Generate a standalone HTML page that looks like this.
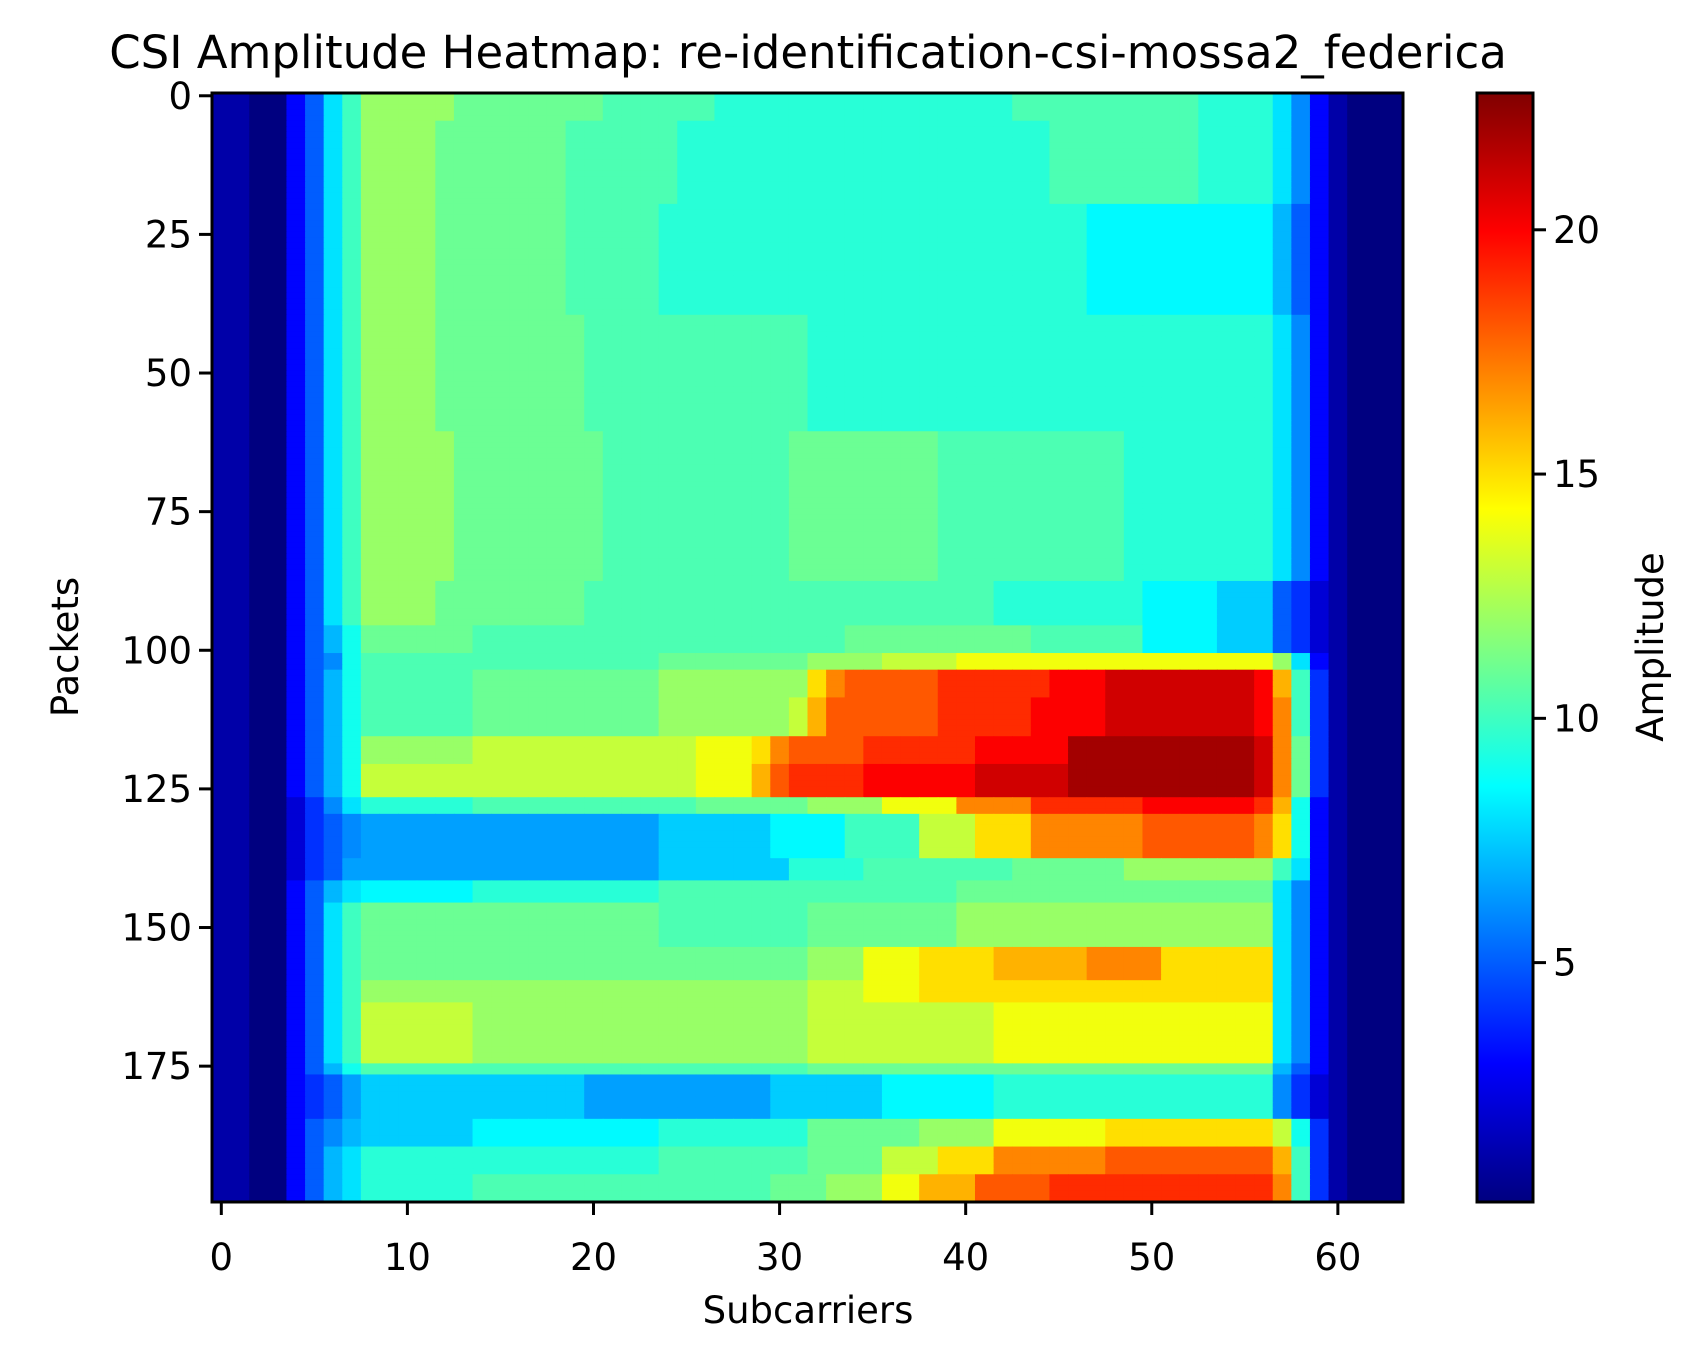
<!DOCTYPE html>
<html><head><meta charset="utf-8"><style>
html,body{margin:0;padding:0;background:#fff;}
svg{display:block;font-family:"DejaVu Sans","Liberation Sans",sans-serif;}
</style></head><body>
<svg id="chart" width="1703" height="1361" viewBox="0 0 1703 1361" xmlns="http://www.w3.org/2000/svg">
<text x="808" y="68" font-size="45" text-anchor="middle">CSI Amplitude Heatmap: re-identification-csi-mossa2_federica</text>
<g id="cells"></g>
<rect x="212" y="93" width="1191" height="1109" fill="none" stroke="#000" stroke-width="3"/>
<g id="xticks"></g>
<g id="yticks"></g>
<text x="808" y="1323" font-size="37" text-anchor="middle">Subcarriers</text>
<text x="0" y="0" font-size="37" text-anchor="middle" transform="translate(78,647) rotate(-90)">Packets</text>
<defs><linearGradient id="jetgrad" x1="0" y1="1" x2="0" y2="0"></linearGradient></defs>
<rect x="1477" y="93" width="56" height="1109" fill="url(#jetgrad)" stroke="#000" stroke-width="3"/>
<g id="cticks"></g>
<text x="0" y="0" font-size="37" text-anchor="middle" transform="translate(1663,647) rotate(-90)">Amplitude</text>
</svg>
<script>
// ---- data ----
const rowCounts = [5,15,20,21,27,8,5,3,5,7,5,6,3,8,4,4,8,6,4,11,2,8,5,5,5];
const rowProfiles = [
"1*2,0*2,3,5,8,10,12*5,11*8,10.3*6,9.5*16,10.3*10,9.5*4,8,6,3,1,0*3",
"1*2,0*2,3,5,8,10,12*4,11*7,10.3*6,9.5*20,10.3*8,9.5*4,8,6,3,1,0*3",
"1*2,0*2,3,5,8,10,12*4,11*7,10.3*5,9.5*23,8.5*10,7,5,3,1,0*3",
"1*2,0*2,3,5,8,10,12*4,11*8,10.3*12,9.5*25,8,6,3,1,0*3",
"1*2,0*2,3,5,8,10,12*5,11*8,10.3*10,11*8,10.3*10,9.5*8,8,6,3,1,0*3",
"1*2,0*2,3,5,8,10,12*4,11*8,10.3*22,9.5*8,8.5*4,7.5*3,5,4,2,1,0*3",
"1*2,0*2,3,5,7,9,11*6,10.3*20,11*10,10.3*6,8.5*4,7.5*3,5,4,2,1,0*3",
"1*2,0*2,3,5,6,9,10.3*16,11*8,12*4,13*4,14*17,12,8,3,1,0*3",
"1*2,0*2,3,5,7,9,10.3*6,11*10,12*8,15,17,18*5,19*6,20*3,21*8,20,16,10,4,1,0*3",
"1*2,0*2,3,5,7,9,10.3*6,11*10,12*7,13,16,18*6,19*5,20*4,21*8,20,17,10,4,1,0*3",
"1*2,0*2,3,5,7,9,12*6,13*12,14*3,15,17,18*4,19*6,20*5,22*10,21,17,11,4,1,0*3",
"1*2,0*2,3,5,7,9,13*18,14*3,16,18,19*4,20*6,21*5,22*10,21,17,11,4,1,0*3",
"1*2,0*2,2,4,6,8,9.5*6,10.3*12,11*6,12*4,14*4,17*4,19*6,20*6,19,16,9,3,1,0*3",
"1*2,0*2,2,4,5,6,6.5*16,7.5*6,8.5*4,10*4,13*3,15*3,17*6,18*6,17,15,9,3,1,0*3",
"1*2,0*2,2,4,5,6.5,6.5*16,7.5*7,9.5*4,10.3*8,11*6,12*8,10,8,3,1,0*3",
"1*2,0*2,3,5,7,8,8.5*6,9.5*10,10.3*16,11*17,8,6,3,1,0*3",
"1*2,0*2,3,5,8,10,11*16,10.3*8,11*8,12*17,8,6,3,1,0*3",
"1*2,0*2,3,5,8,10,11*24,12*3,14*3,15*4,16*5,17*4,15*6,8,6,3,1,0*3",
"1*2,0*2,3,5,8,10,12*24,13*3,14*3,15*19,8,6,3,1,0*3",
"1*2,0*2,3,5,8,10,13*6,12*18,13*10,14*15,8,6,3,1,0*3",
"1*2,0*2,3,5,7,9,10.3*24,11*25,7,5,3,1,0*3",
"1*2,0*2,3,4,5,6.5,7.5*12,6.5*10,7.5*6,8.5*6,9.5*15,6,4,2,1,0*3",
"1*2,0*2,3,5,6,7,7.5*6,8.5*10,9.5*8,11*6,12*4,14*6,15*9,13,9,4,1,0*3",
"1*2,0*2,3,5,7,8,9.5*16,10.3*8,11*4,13*3,15*3,17*6,18*9,16,10,4,1,0*3",
"1*2,0*2,3,5,7,8,9.5*6,10.3*16,11*3,12*3,14*2,16*3,18*4,19*12,17,10,4,1,0*3"
];
const xTickValues = [0,10,20,30,40,50,60];
const yTickValues = [0,25,50,75,100,125,150,175];
const cbTickValues = [5,10,15,20];
const vMin = 0.1, vMax = 22.8;
const nCols = 64, nRows = 200;

// ---- geometry ----
const PX0=212, PX1=1403, PY0=93, PY1=1202, CB0=1477, CB1=1533;
const xScale = v => PX0 + (v + 0.5) * (PX1 - PX0) / nCols;
const yScale = v => PY0 + (v + 0.5) * (PY1 - PY0) / nRows;
const cbScale = v => PY1 - (v - vMin) / (vMax - vMin) * (PY1 - PY0);
const NS = "http://www.w3.org/2000/svg";

function jet(t){
  t=Math.max(0,Math.min(1,t));
  const c=x=>Math.round(255*Math.max(0,Math.min(1,x)));
  const r=c(Math.min(4*t-1.5,-4*t+4.5));
  const g=c(Math.min(4*t-0.5,-4*t+3.5));
  const b=c(Math.min(4*t+0.5,-4*t+2.5));
  return `rgb(${r},${g},${b})`;
}
function parseRow(s){
  const out=[];
  s.split(",").forEach(p=>{const [v,n]=p.split("*");const k=n?+n:1;for(let i=0;i<k;i++)out.push(+v);});
  while(out.length<nCols) out.push(out[out.length-1]);
  return out.slice(0,nCols);
}
const matrix=[];
rowCounts.forEach((cnt,i)=>{const r=parseRow(rowProfiles[i]);for(let k=0;k<cnt;k++)matrix.push(r);});

const cells=document.getElementById("cells");
const cw=(PX1-PX0)/nCols, rh=(PY1-PY0)/nRows;
for(let r=0;r<Math.min(nRows,matrix.length);r++){
  for(let c=0;c<nCols;c++){
    const el=document.createElementNS(NS,"rect");
    
    
    el.setAttribute("x",(xScale(c)-cw/2).toFixed(2));
    el.setAttribute("y",(yScale(r)-rh/2).toFixed(2));
    el.setAttribute("width",(cw+0.6).toFixed(2));
    el.setAttribute("height",(rh+0.6).toFixed(2));
    el.setAttribute("fill",jet((matrix[r][c]-vMin)/(vMax-vMin)));
    cells.appendChild(el);
  }
}
function line(g,x1,y1,x2,y2){const l=document.createElementNS(NS,"line");
  
  
  l.setAttribute("x1",x1);l.setAttribute("y1",y1);l.setAttribute("x2",x2);l.setAttribute("y2",y2);
  l.setAttribute("stroke","#000");l.setAttribute("stroke-width","3");g.appendChild(l);}
function text(g,x,y,s,anchor){const t=document.createElementNS(NS,"text");
  
  
  t.setAttribute("x",x);t.setAttribute("y",y);t.setAttribute("font-size","37");
  t.setAttribute("text-anchor",anchor);t.textContent=s;g.appendChild(t);}
const gx=document.getElementById("xticks");
xTickValues.forEach(v=>{const x=xScale(v);line(gx,x,PY1,x,PY1+13);text(gx,x,1270,String(v),"middle");});
const gy=document.getElementById("yticks");
yTickValues.forEach(v=>{const y=yScale(v);line(gy,PX0-13,y,PX0,y);text(gy,PX0-20,y+13,String(v),"end");});
const gc=document.getElementById("cticks");
cbTickValues.forEach(v=>{const y=cbScale(v);line(gc,CB1,y,CB1+13,y);text(gc,CB1+20,y+13,String(v),"start");});
const grad=document.getElementById("jetgrad");
for(let i=0;i<=32;i++){const s=document.createElementNS(NS,"stop");
  s.setAttribute("offset",(i/32).toFixed(4));s.setAttribute("stop-color",jet(i/32));grad.appendChild(s);}
</script>
</body></html>
